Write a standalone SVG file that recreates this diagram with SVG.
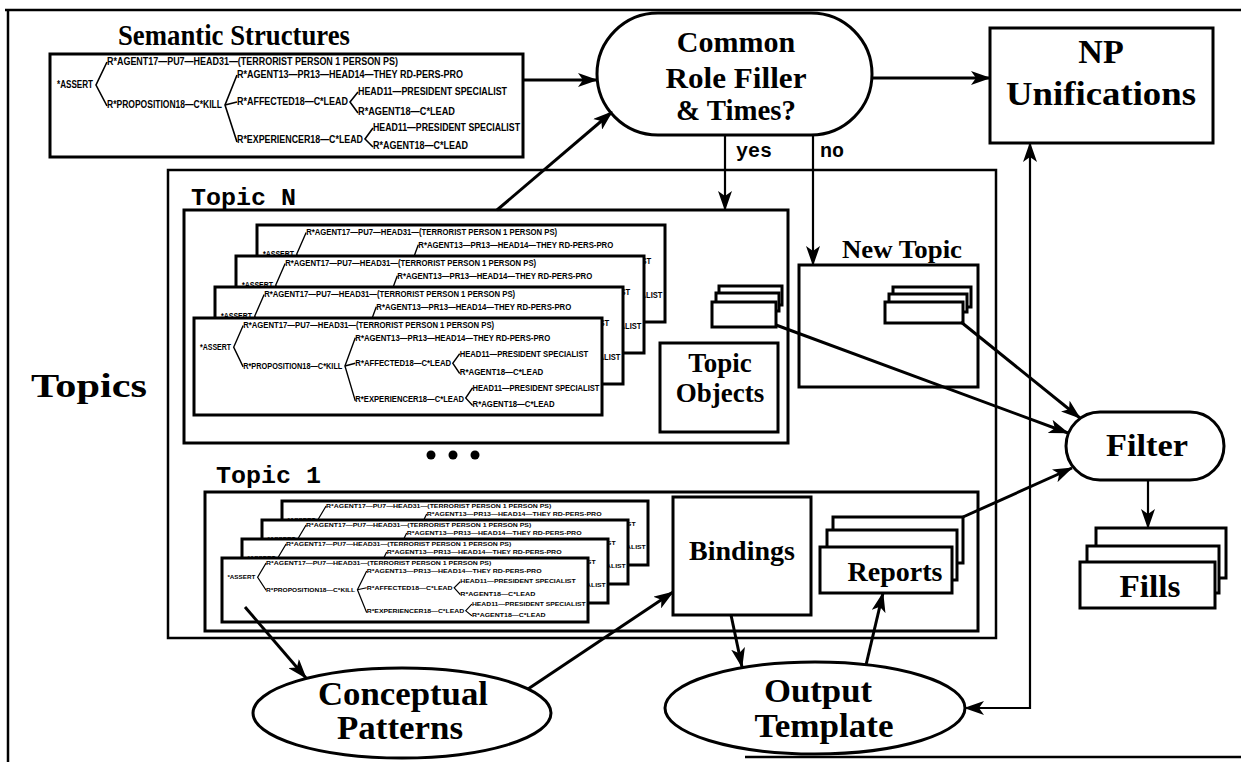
<svg xmlns="http://www.w3.org/2000/svg" xmlns:xlink="http://www.w3.org/1999/xlink" width="1241" height="762" viewBox="0 0 1241 762">
<style>
.box{fill:#fff;stroke:#000;stroke-width:3}
.frame{fill:none;stroke:#000;stroke-width:2.5}
.lbl{font-family:"Liberation Serif","Times New Roman",serif;font-weight:bold;fill:#000;text-anchor:middle}
.mono{font-family:"Liberation Mono","Courier New",monospace;font-weight:bold;fill:#000}
.tt{font-family:"Liberation Sans",Arial,sans-serif;font-weight:bold;font-size:10px;fill:#000}
.br{fill:none;stroke:#000;stroke-width:1.6}
.con{fill:none;stroke:#000;stroke-width:3}
.con2{fill:none;stroke:#000;stroke-width:2.2}
</style>
<defs>
<marker id="ah" viewBox="0 0 20 14" refX="19" refY="7" markerWidth="20" markerHeight="14" markerUnits="userSpaceOnUse" orient="auto-start-reverse">
<path d="M0,0 L20,7 L0,14 L5,7 z" fill="#000"/>
</marker>
<g id="tree">
<text class="tt" x="7" y="34" textLength="36" lengthAdjust="spacingAndGlyphs">*ASSERT</text>
<path class="br" d="M57,8 L46,31 L57,52"/>
<text class="tt" x="57" y="11" textLength="291" lengthAdjust="spacingAndGlyphs">R*AGENT17—PU7—HEAD31—(TERRORIST PERSON 1 PERSON PS)</text>
<text class="tt" x="57" y="54" textLength="115" lengthAdjust="spacingAndGlyphs">R*PROPOSITION18—C*KILL</text>
<path class="br" d="M187,21 L175,51 L187,88"/>
<path class="br" d="M175,51 L187,48"/>
<text class="tt" x="187" y="24" textLength="226" lengthAdjust="spacingAndGlyphs">R*AGENT13—PR13—HEAD14—THEY RD-PERS-PRO</text>
<text class="tt" x="187" y="51" textLength="111" lengthAdjust="spacingAndGlyphs">R*AFFECTED18—C*LEAD</text>
<text class="tt" x="187" y="89" textLength="126" lengthAdjust="spacingAndGlyphs">R*EXPERIENCER18—C*LEAD</text>
<path class="br" d="M308,38 L300,48 L308,59"/>
<text class="tt" x="308" y="41" textLength="149" lengthAdjust="spacingAndGlyphs">HEAD11—PRESIDENT SPECIALIST</text>
<text class="tt" x="308" y="61" textLength="97" lengthAdjust="spacingAndGlyphs">R*AGENT18—C*LEAD</text>
<path class="br" d="M323,74 L315,85 L323,93"/>
<text class="tt" x="323" y="77" textLength="147" lengthAdjust="spacingAndGlyphs">HEAD11—PRESIDENT SPECIALIST</text>
<text class="tt" x="323" y="95" textLength="95" lengthAdjust="spacingAndGlyphs">R*AGENT18—C*LEAD</text>
</g>
<g id="sem">
<rect x="0" y="0" width="473" height="103" fill="#fff" stroke="#000" stroke-width="3" vector-effect="non-scaling-stroke"/>
<use xlink:href="#tree"/>
</g>
</defs>

<rect width="1241" height="762" fill="#fff"/>
<g id="page-frame">
<path class="frame" d="M5,10 L1241,10 M8,10 L8,762 M745,757 L1241,757"/>
</g>

<g id="semantic-structures">
<text class="lbl" x="234" y="45" font-size="30" textLength="232" lengthAdjust="spacingAndGlyphs">Semantic Structures</text>
<use xlink:href="#sem" transform="translate(50,54)"/>
</g>

<g id="common-role-filler">
<rect class="box" x="597" y="13" width="275" height="122" rx="61" ry="61"/>
<text class="lbl" x="736" y="52" font-size="30">Common</text>
<text class="lbl" x="736" y="88" font-size="30" textLength="141" lengthAdjust="spacingAndGlyphs">Role Filler</text>
<text class="lbl" x="736" y="120" font-size="30" textLength="120" lengthAdjust="spacingAndGlyphs">&amp; Times?</text>
</g>

<g id="np-unifications">
<rect class="box" x="990" y="28" width="223" height="115"/>
<text class="lbl" x="1101" y="63" font-size="34">NP</text>
<text class="lbl" x="1101" y="105" font-size="34" textLength="190" lengthAdjust="spacingAndGlyphs">Unifications</text>
</g>

<g id="topics">
<rect class="frame" x="168" y="170" width="828" height="468"/>
<text class="lbl" x="89" y="397" font-size="34" textLength="116" lengthAdjust="spacingAndGlyphs">Topics</text>
<circle cx="431" cy="455" r="4.5"/>
<circle cx="453" cy="455" r="4.5"/>
<circle cx="475" cy="455" r="4.5"/>
</g>

<g id="topic-n">
<text class="mono" x="191" y="205" font-size="24" textLength="105" lengthAdjust="spacingAndGlyphs">Topic N</text>
<rect class="box" x="184" y="210" width="604" height="233"/>
<use xlink:href="#sem" transform="translate(257,225) scale(0.8626,0.9417)"/>
<use xlink:href="#sem" transform="translate(236,256) scale(0.8626,0.9417)"/>
<use xlink:href="#sem" transform="translate(215,287) scale(0.8626,0.9417)"/>
<use xlink:href="#sem" transform="translate(194,318) scale(0.8626,0.9417)"/>
<rect class="box" x="719" y="286" width="63" height="19"/>
<rect class="box" x="716" y="293" width="63" height="18"/>
<rect class="box" x="712" y="302" width="64" height="25"/>
</g>

<g id="topic-objects">
<rect class="box" x="660" y="343" width="118" height="89"/>
<text class="lbl" x="720" y="372" font-size="27">Topic</text>
<text class="lbl" x="720" y="402" font-size="27">Objects</text>
</g>

<g id="new-topic">
<text class="lbl" x="902" y="258" font-size="26" textLength="120" lengthAdjust="spacingAndGlyphs">New Topic</text>
<rect class="box" x="799" y="265" width="179" height="122"/>
<rect class="box" x="893" y="287" width="78" height="20"/>
<rect class="box" x="889" y="294" width="78" height="18"/>
<rect class="box" x="885" y="302" width="78" height="21"/>
</g>

<g id="topic-1">
<text class="mono" x="216" y="483" font-size="24" textLength="105" lengthAdjust="spacingAndGlyphs">Topic 1</text>
<rect class="box" x="205" y="492" width="773" height="139"/>
<use xlink:href="#sem" transform="translate(282,501) scale(0.7738,0.6214)"/>
<use xlink:href="#sem" transform="translate(262,520) scale(0.7738,0.6214)"/>
<use xlink:href="#sem" transform="translate(242,539) scale(0.7738,0.6214)"/>
<use xlink:href="#sem" transform="translate(222,558) scale(0.7738,0.6214)"/>
</g>

<g id="bindings">
<rect class="box" x="673" y="497" width="138" height="118"/>
<text class="lbl" x="742" y="560" font-size="28">Bindings</text>
</g>

<g id="reports">
<rect class="box" x="833" y="517" width="130" height="46"/>
<rect class="box" x="827" y="530" width="130" height="50"/>
<rect class="box" x="820" y="547" width="132" height="46"/>
<text class="lbl" x="895" y="581" font-size="28">Reports</text>
</g>

<g id="filter">
<rect class="box" x="1066" y="412" width="158" height="68" rx="34" ry="34"/>
<text class="lbl" x="1147" y="456" font-size="32" textLength="82" lengthAdjust="spacingAndGlyphs">Filter</text>
</g>

<g id="fills">
<rect class="box" x="1096" y="528" width="130" height="50"/>
<rect class="box" x="1087" y="546" width="132" height="47"/>
<rect class="box" x="1080" y="562" width="135" height="46"/>
<text class="lbl" x="1150" y="597" font-size="32" textLength="61" lengthAdjust="spacingAndGlyphs">Fills</text>
</g>

<g id="conceptual-patterns">
<ellipse class="box" cx="402" cy="713" rx="149" ry="45"/>
<text class="lbl" x="403" y="705" font-size="34" textLength="170" lengthAdjust="spacingAndGlyphs">Conceptual</text>
<text class="lbl" x="400" y="739" font-size="34" textLength="126" lengthAdjust="spacingAndGlyphs">Patterns</text>
</g>

<g id="output-template">
<ellipse class="box" cx="815" cy="708" rx="150" ry="46"/>
<text class="lbl" x="818" y="702" font-size="34" textLength="108" lengthAdjust="spacingAndGlyphs">Output</text>
<text class="lbl" x="824" y="737" font-size="34" textLength="139" lengthAdjust="spacingAndGlyphs">Template</text>
</g>

<g id="connectors">
<line class="con" x1="523" y1="80" x2="597" y2="80" marker-end="url(#ah)"/>
<line class="con" x1="872" y1="78" x2="990" y2="78" marker-end="url(#ah)"/>
<line class="con2" x1="725" y1="135" x2="725" y2="210" marker-end="url(#ah)"/>
<text class="mono" x="736" y="157" font-size="20">yes</text>
<line class="con2" x1="813" y1="135" x2="813" y2="265" marker-end="url(#ah)"/>
<text class="mono" x="820" y="157" font-size="20">no</text>
<line class="con" x1="497" y1="210" x2="612" y2="112" marker-end="url(#ah)"/>
<line class="con" x1="776" y1="325" x2="1068" y2="433" marker-end="url(#ah)"/>
<line class="con" x1="961" y1="322" x2="1080" y2="418" marker-end="url(#ah)"/>
<line class="con" x1="963" y1="517" x2="1072" y2="468" marker-end="url(#ah)"/>
<line class="con2" x1="1148" y1="480" x2="1148" y2="528" marker-end="url(#ah)"/>
<line class="con" x1="245" y1="607" x2="306" y2="678" marker-end="url(#ah)"/>
<line class="con" x1="528" y1="689" x2="673" y2="592" marker-end="url(#ah)"/>
<line class="con" x1="731" y1="615" x2="742" y2="667" marker-end="url(#ah)"/>
<line class="con" x1="866" y1="665" x2="883" y2="593" marker-end="url(#ah)"/>
<polyline class="con2" points="965,708 1030,708 1030,143" marker-start="url(#ah)" marker-end="url(#ah)"/>
</g>
</svg>
